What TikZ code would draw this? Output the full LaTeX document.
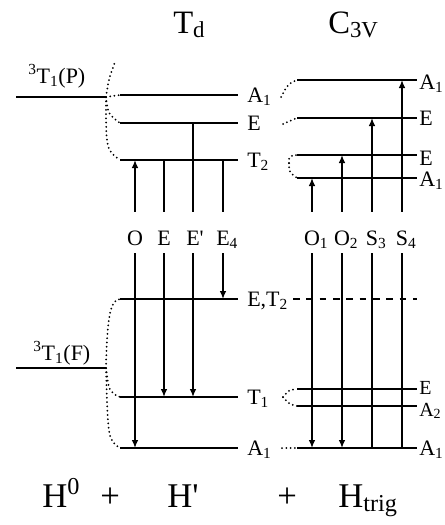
\documentclass[tikz,border=0pt]{standalone}
\usepackage{fontspec}
\setmainfont{Liberation Serif}
\usetikzlibrary{arrows.meta}
\begin{document}
\begin{tikzpicture}[x=0.75pt,y=-0.75pt,
 level/.style={line width=1.2pt},
 trans/.style={line width=1.1pt},
 arr/.style={trans,-{Latex[length=6pt,width=5pt]}},
 dots/.style={line width=1.5pt,line cap=round,dash pattern=on 0pt off 3.2pt},
 dashline/.style={line width=1.1pt,dash pattern=on 5pt off 5pt},
 lbl/.style={font=\fontsize{16.5}{18}\selectfont,inner sep=0pt,anchor=base west},
 tight/.style={font=\fontsize{15}{16}\selectfont},
 tl/.style={font=\fontsize{16.5}{18}\selectfont,inner sep=0pt,anchor=base,text height=24.75pt,text depth=6pt},
 ttl/.style={font=\fontsize{24.5}{28}\selectfont,inner sep=0pt,anchor=base west},
 bot/.style={font=\fontsize{26}{30}\selectfont,inner sep=0pt,anchor=base west},
]
\useasboundingbox (0,0) rectangle (445,525);

% titles
\node[ttl] (tTd) at (173,33) {T\textsubscript{d}};
\node[ttl] (tC3v) at (328,33) {C\textsubscript{3V}};

% free-ion levels
\coordinate (PL) at (16,97);  \coordinate (PR) at (106,97);
\coordinate (FL) at (16,368); \coordinate (FR) at (106,368);
\draw[level] (PL) -- (PR);
\draw[level] (FL) -- (FR);
\node[lbl] (lP) at (28,83) {\textsuperscript{3}T\textsubscript{1}(P)};
\node[lbl] (lF) at (33,360) {\textsuperscript{3}T\textsubscript{1}(F)};

% Td levels
\coordinate (TdA1L) at (120,95);  \coordinate (TdA1R) at (238,95);
\coordinate (TdEL)  at (120,123); \coordinate (TdER)  at (238,123);
\coordinate (TdT2L) at (120,160); \coordinate (TdT2R) at (238,160);
\coordinate (TdETL) at (120,299); \coordinate (TdETR) at (238,299);
\coordinate (TdT1L) at (120,397); \coordinate (TdT1R) at (238,397);
\coordinate (TdA1bL) at (120,448); \coordinate (TdA1bR) at (238,448);
\foreach \a/\b in {TdA1L/TdA1R,TdEL/TdER,TdT2L/TdT2R,TdETL/TdETR,TdT1L/TdT1R,TdA1bL/TdA1bR}
  \draw[level] (\a) -- (\b);
\node[lbl] (lTdA1) at (247,102.5) {A\textsubscript{1}};
\node[lbl] (lTdE)  at (247,130.5) {E};
\node[lbl] (lTdT2) at (247,167.5) {T\textsubscript{2}};
\node[lbl] (lTdET) at (247,306.5) {E,T\textsubscript{2}};
\node[lbl] (lTdT1) at (247,404.5) {T\textsubscript{1}};
\node[lbl] (lTdA1b) at (247,455.5) {A\textsubscript{1}};

% C3v levels
\coordinate (CA1aL) at (297,80);  \coordinate (CA1aR) at (417,80);
\coordinate (CEaL)  at (297,118); \coordinate (CEaR)  at (417,118);
\coordinate (CEbL)  at (297,155); \coordinate (CEbR)  at (417,155);
\coordinate (CA1bL) at (297,178); \coordinate (CA1bR) at (417,178);
\coordinate (CEcL)  at (297,389); \coordinate (CEcR)  at (417,389);
\coordinate (CA2L)  at (297,406); \coordinate (CA2R)  at (417,406);
\coordinate (CA1cL) at (297,448); \coordinate (CA1cR) at (417,448);
\foreach \a/\b in {CA1aL/CA1aR,CEaL/CEaR,CEbL/CEbR,CA1bL/CA1bR,CEcL/CEcR,CA2L/CA2R,CA1cL/CA1cR}
  \draw[level] (\a) -- (\b);
\node[lbl] (lCA1a) at (419,89) {A\textsubscript{1}};
\node[lbl] (lCEa)  at (419,125.5) {E};
\node[lbl] (lCEb)  at (419,165) {E};
\node[lbl] (lCA1b) at (419,186) {A\textsubscript{1}};
\node[lbl,tight] (lCEc)  at (419,394) {E};
\node[lbl,tight] (lCA2)  at (419,416) {A\textsubscript{2}};
\node[lbl] (lCA1c) at (419,455.5) {A\textsubscript{1}};

% dashed continuation of E,T2
\coordinate (DS) at (293,299); \coordinate (DE) at (417,299);
\draw[dashline] (DS) -- (DE);

% correlation dots, free ion -> Td
\coordinate (Ptop) at (115,62);
\draw[dots] (PR) .. controls (109,78) .. (Ptop);
\draw[dots] (PR) -- (TdA1L);
\draw[dots] (PR) .. controls (108,114) .. (TdEL);
\draw[dots] (PR) .. controls (106,150) .. (TdT2L);
\draw[dots] (FR) .. controls (107,320) and (110,299) .. (TdETL);
\draw[dots] (FR) .. controls (109,392) .. (TdT1L);
\draw[dots] (FR) .. controls (108,440) .. (TdA1bL);

% correlation dots, Td -> C3v
\coordinate (cA1) at (281,97);
\coordinate (cE) at (283,124);
\coordinate (cT2) at (289,163);
\coordinate (cT1) at (283,397);
\coordinate (cA1b) at (282,448);
\draw[dots] (cA1) .. controls (288,84) .. (CA1aL);
\draw[dots] (cE) -- (CEaL);
\draw[dots] (cT2) .. controls (289,156) .. (CEbL);
\draw[dots] (cT2) .. controls (289,172) .. (CA1bL);
\draw[dots] (cT1) .. controls (289,390) .. (CEcL);
\draw[dots] (cT1) .. controls (289,404) .. (CA2L);
\draw[dots] (cA1b) -- (CA1cL);

% transition labels
\node[tl] (tO)  at (135,245) {O};
\node[tl] (tE)  at (164,245) {E};
\node[tl] (tEp) at (193,245) {E\rlap{\textquotesingle}};
\node[tl] (tE4) at (223,245) {E\rlap{\textsubscript{4}}};
\node[tl] (tO1) at (312,245) {O\rlap{\textsubscript{1}}};
\node[tl] (tO2) at (342,245) {O\rlap{\textsubscript{2}}};
\node[tl] (tS3) at (372,245) {S\rlap{\textsubscript{3}}};
\node[tl] (tS4) at (402,245) {S\rlap{\textsubscript{4}}};

% Td transitions
\draw[arr]   (tO.north) -- (tO.north |- TdT2L);
\draw[arr]   (tO.south) -- (tO.south |- TdA1bL);
\draw[trans] (tE.north) -- (tE.north |- TdT2L);
\draw[arr]   (tE.south) -- (tE.south |- TdT1L);
\draw[trans] (tEp.north) -- (tEp.north |- TdEL);
\draw[arr]   (tEp.south) -- (tEp.south |- TdT1L);
\draw[trans] (tE4.north) -- (tE4.north |- TdT2L);
\draw[arr]   (tE4.south) -- (tE4.south |- TdETL);

% C3v transitions
\draw[arr]   (tO1.north) -- (tO1.north |- CA1bL);
\draw[arr]   (tO1.south) -- (tO1.south |- CA1cL);
\draw[arr]   (tO2.north) -- (tO2.north |- CEbL);
\draw[arr]   (tO2.south) -- (tO2.south |- CA1cL);
\draw[arr]   (tS3.north) -- (tS3.north |- CEaL);
\draw[trans] (tS3.south) -- (tS3.south |- CA1cL);
\draw[arr]   (tS4.north) -- (tS4.north |- CA1aL);
\draw[trans] (tS4.south) -- (tS4.south |- CA1cL);

% Hamiltonian terms
\node[bot] (h0) at (42,507) {H\textsuperscript{0}};
\node[bot] (p1) at (100,507) {+};
\node[bot] (h1) at (167,507) {H\textquotesingle};
\node[bot] (p2) at (277,507) {+};
\node[bot] (h2) at (338,507) {H\textsubscript{trig}};
\end{tikzpicture}
\end{document}
